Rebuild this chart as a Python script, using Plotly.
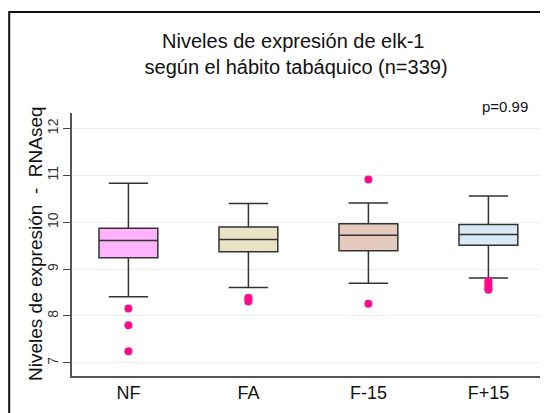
import plotly.graph_objects as go

categories = ["NF", "FA", "F-15", "F+15"]
q1 = [9.24, 9.37, 9.39, 9.51]
median = [9.61, 9.63, 9.72, 9.74]
q3 = [9.87, 9.90, 9.97, 9.95]
lower_whisker = [8.41, 8.61, 8.70, 8.81]
upper_whisker = [10.83, 10.40, 10.41, 10.56]
outliers = {
    "NF": [8.16, 7.80, 7.25],
    "FA": [8.39, 8.35, 8.31],
    "F-15": [10.91, 8.26],
    "F+15": [8.74, 8.69, 8.64, 8.59, 8.56],
}
fill_colors = ["#ffb3ff", "#e8e3c5", "#e5cbbd", "#d9e9f5"]
y_ticks = [7, 8, 9, 10, 11, 12]

FONT = "Liberation Sans, Arial, sans-serif"
W, H = 548, 413
OFF = 8  # page body margin offset
PL, PT, PW, PH = 72, 113, 471, 263  # target plot box in screen pixels
L = PL - OFF
T = PT - OFF
R = W - L - PW
B = H - T - PH

def px_x(p):
    return (p - PL) / PW

def px_y(p):
    return (PT + PH - p) / PH

fig = go.Figure()
for i, c in enumerate(categories):
    fig.add_trace(go.Box(
        x=[c], q1=[q1[i]], median=[median[i]], q3=[q3[i]],
        lowerfence=[lower_whisker[i]], upperfence=[upper_whisker[i]],
        fillcolor=fill_colors[i], line=dict(color="#333333", width=1.5),
        width=0.49, whiskerwidth=0.67, boxpoints=False, showlegend=False,
        hoverinfo="skip",
    ))
for c in categories:
    fig.add_trace(go.Scatter(
        x=[c] * len(outliers[c]), y=outliers[c], mode="markers",
        marker=dict(color="#ff0a8a", size=8), showlegend=False, hoverinfo="skip",
    ))

fig.update_layout(
    width=W, height=H,
    margin=dict(l=L, r=R, t=T, b=B),
    paper_bgcolor="white", plot_bgcolor="white",
    font=dict(family=FONT, color="#000000"),
    boxmode="overlay",
    xaxis=dict(
        categoryorder="array", categoryarray=categories,
        range=[-0.47, 3.455], showgrid=False, zeroline=False,
        showline=True, linecolor="#555555", linewidth=1.5,
        ticks="", tickfont=dict(size=18, family=FONT, color="#111111"),
    ),
    yaxis=dict(
        range=[6.72, 12.33], tickvals=y_ticks, ticktext=[str(v) for v in y_ticks],
        tickangle=-90, ticks="outside", ticklen=7, tickcolor="#444444",
        tickfont=dict(size=14, family=FONT, color="#333333"),
        showgrid=True, gridcolor="#e8f0f1", gridwidth=1, zeroline=False,
        showline=True, linecolor="#555555", linewidth=1.5,
    ),
    annotations=[
        dict(text="Niveles de expresión de elk-1<br> según el hábito tabáquico (n=339)",
             xref="paper", yref="paper", x=px_x(293), y=px_y(54),
             xanchor="center", yanchor="middle", showarrow=False,
             font=dict(size=20, family=FONT, color="#111111")),
        dict(text="Niveles de expresión  -  RNAseq", textangle=-90,
             xref="paper", yref="paper", x=px_x(35), y=px_y(244),
             xanchor="center", yanchor="middle", showarrow=False,
             font=dict(size=19, family=FONT, color="#111111")),
        dict(text="p=0.99", xref="paper", yref="paper", x=px_x(505), y=px_y(106),
             xanchor="center", yanchor="middle", showarrow=False,
             font=dict(size=15, family=FONT, color="#111111")),
    ],
    shapes=[
        dict(type="rect", xref="paper", yref="paper",
             x0=px_x(OFF + 1.2), x1=px_x(560), y0=px_y(425), y1=px_y(12),
             line=dict(color="#111111", width=2), layer="above"),
    ],
)

fig.write_html("out.html")
